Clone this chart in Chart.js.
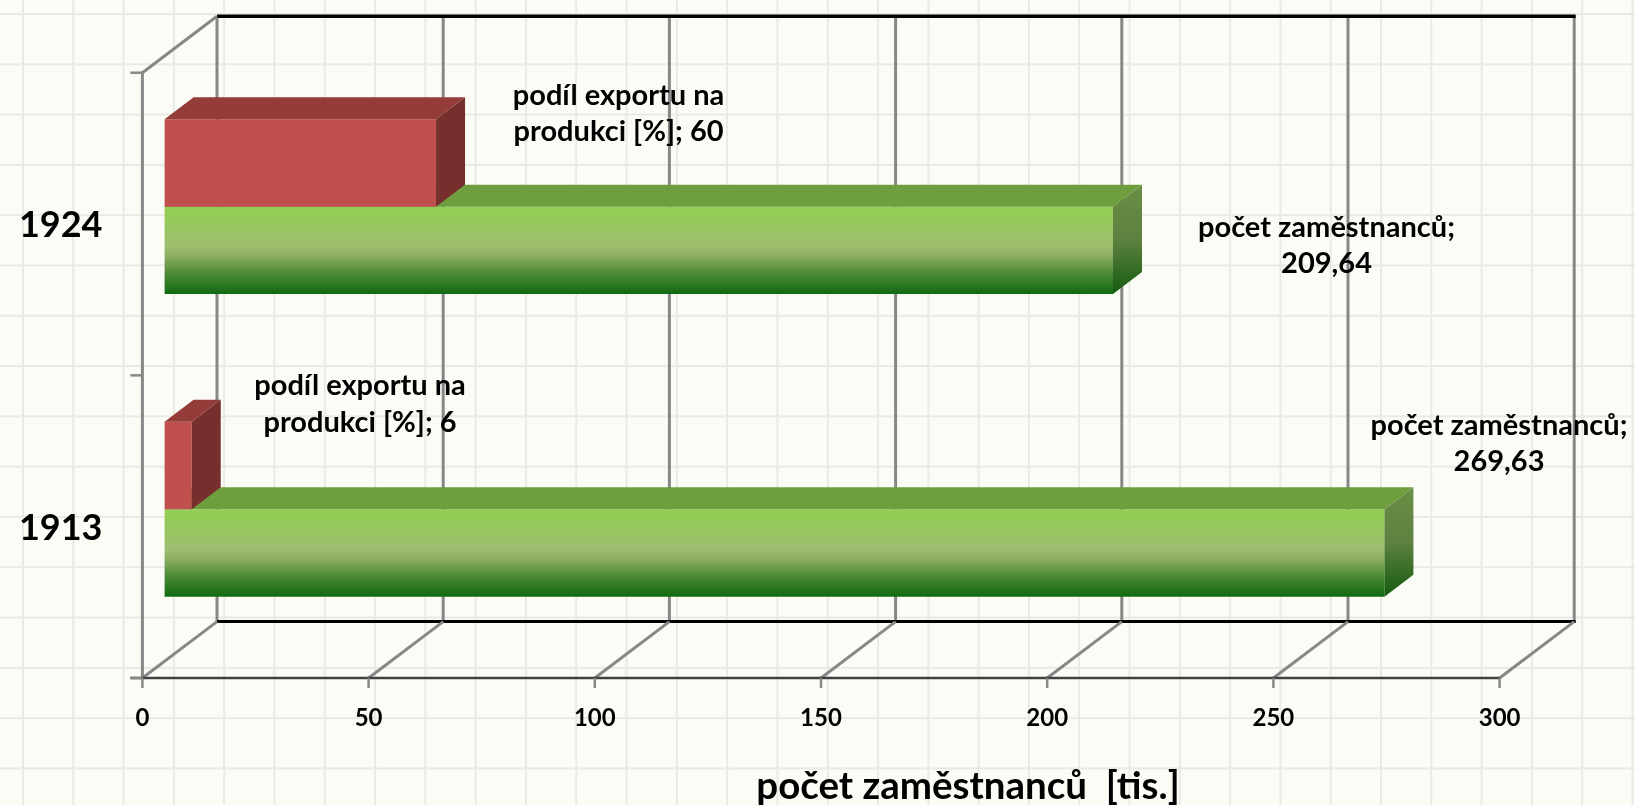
<!DOCTYPE html>
<html>
<head>
<meta charset="utf-8">
<script src="https://cdn.jsdelivr.net/npm/chart.js@4.4.1/dist/chart.umd.min.js"></script>
<style>
  html, body { margin: 0; padding: 0; }
  body {
    width: 1635px; height: 805px; overflow: hidden;
    background-color: #fcfcf7;
    background-image:
      linear-gradient(to right, #eaeae5 2px, transparent 2px),
      linear-gradient(to bottom, #eaeae5 2px, transparent 2px);
    background-size: 50.3px 50.3px;
    background-position: 22px 13px;
  }
  #wrap { position: absolute; left: 0; top: 0; width: 1635px; height: 805px; }
</style>
</head>
<body>
<div id="wrap"><canvas id="chart" width="1635" height="805"></canvas></div>
<script>
// ---- data ----
const categories = ['1924', '1913'];
const exportShare = [60, 6];            // podíl exportu na produkci [%]
const employees = [209.64, 269.63];     // počet zaměstnanců [tis.]
const xTickValues = [0, 50, 100, 150, 200, 250, 300];
const seriesNames = ['podíl exportu na produkci [%]', 'počet zaměstnanců'];
const seriesNameLines = [['podíl exportu na', 'produkci [%]'], ['počet zaměstnanců']];
const axisTitle = 'počet zaměstnanců  [tis.]';

// ---- layout / style constants ----
const PLOT = { left: 142.4, right: 1499.6, top: 55.3, bottom: 660.6 };
const BAR_SHIFT = { x: 22.2, y: 17.4 };   // bar plane vs. front plane
const WALL_DEPTH = { x: 74.6, y: -56.4 };  // back wall vs. front plane
const BAR_DEPTH = { x: 29, y: -22 };
const CAT_PCT = 0.578;
const LABEL_FONT = 'bold 29px Lato';
const LABEL_LINE = 36.5;
// label block centre relative to bar end / bar centre  [dataset][category]
const LABEL_POS = [
  [[182.5, -49.2], [168.3, -61.3]],
  [[213.5, -4.7], [114.6, -109.6]]
];
const TITLE_POS = { x: 968, y: 799 };

function fmt(v) { return String(v).replace('.', ','); }

function greenGradient(ctx) {
  const chart = ctx.chart;
  const area = chart.chartArea;
  if (!area) return '#92D050';
  const ys = chart.scales.y;
  const yc = ys.getPixelForValue(ctx.dataIndex);
  const band = (area.bottom - area.top) / categories.length;
  const th = band * CAT_PCT / 2;
  const top = yc - th + ctx.datasetIndex * th;
  const g = chart.ctx.createLinearGradient(0, top, 0, top + th);
  g.addColorStop(0, '#95CE56');
  g.addColorStop(0.12, '#93CB58');
  g.addColorStop(0.45, '#9FBD70');
  g.addColorStop(0.56, '#8DAF64');
  g.addColorStop(0.76, '#4E8A35');
  g.addColorStop(1, '#0F6A12');
  return g;
}

const faceStyles = [
  { top: '#943C39', side: '#772F2D' },
  { top: '#6E9E3E', side: null }
];

function poly(ctx, pts, fill) {
  ctx.beginPath();
  ctx.moveTo(pts[0][0], pts[0][1]);
  for (let i = 1; i < pts.length; i++) ctx.lineTo(pts[i][0], pts[i][1]);
  ctx.closePath();
  ctx.fillStyle = fill;
  ctx.fill();
}

function line(ctx, x1, y1, x2, y2, color, w) {
  ctx.beginPath();
  ctx.moveTo(x1, y1);
  ctx.lineTo(x2, y2);
  ctx.strokeStyle = color;
  ctx.lineWidth = w;
  ctx.stroke();
}

const plot3d = {
  id: 'plot3d',
  afterLayout(chart) {
    const xs = chart.scales.x, x2 = chart.scales.x2;
    const upp = (xs.max - xs.min) / (xs.right - xs.left);
    x2.min = xs.min - BAR_SHIFT.x * upp;
    x2.max = xs.max - BAR_SHIFT.x * upp;
    x2.configure();
  },
  beforeDatasetsDraw(chart) {
    const ctx = chart.ctx;
    const xs = chart.scales.x;
    const area = chart.chartArea;
    const fTop = area.top + BAR_SHIFT.y, fBot = area.bottom + BAR_SHIFT.y;
    const x0 = xs.getPixelForValue(xs.min), xN = xs.getPixelForValue(xs.max);
    const D = WALL_DEPTH;
    ctx.save();
    ctx.lineCap = 'butt';
    // back wall gridlines
    xTickValues.forEach(v => {
      const px = xs.getPixelForValue(v) + D.x;
      line(ctx, px, fTop + D.y, px, fBot + D.y, '#878787', 3);
    });
    // back wall top & bottom edge
    line(ctx, x0 + D.x, fTop + D.y, xN + D.x + 1.5, fTop + D.y, '#000000', 3.5);
    line(ctx, x0 + D.x, fBot + D.y, xN + D.x + 1.5, fBot + D.y, '#000000', 3);
    // floor diagonals
    xTickValues.forEach(v => {
      const px = xs.getPixelForValue(v);
      line(ctx, px, fBot, px + D.x, fBot + D.y, '#878787', 3);
    });
    // side wall
    line(ctx, x0, fTop, x0, fBot, '#878787', 3);
    line(ctx, x0, fTop, x0 + D.x, fTop + D.y, '#878787', 3);
    // front floor edge
    line(ctx, x0 - 12, fBot, xN, fBot, '#404040', 2.5);
    // x tick marks
    xTickValues.forEach(v => {
      const px = xs.getPixelForValue(v);
      line(ctx, px, fBot, px, fBot + 10, '#878787', 2.5);
    });
    // category separators on side wall
    const band = (area.bottom - area.top) / categories.length;
    for (let i = 0; i <= categories.length; i++) {
      const py = fTop + i * band;
      line(ctx, x0 - 12, py, x0, py, '#878787', 2.5);
    }
    ctx.restore();
  },
  afterDatasetDraw(chart, args) {
    const ctx = chart.ctx;
    const meta = args.meta;
    const st = faceStyles[args.index];
    const B = BAR_DEPTH;
    ctx.save();
    meta.data.forEach(bar => {
      const p = bar.getProps(['x', 'y', 'base', 'height'], true);
      const top = p.y - p.height / 2, bottom = p.y + p.height / 2;
      const l = p.base, r = p.x;
      poly(ctx, [[l, top], [l + B.x, top + B.y], [r + B.x, top + B.y], [r, top]], st.top);
      let side = st.side;
      if (!side) {
        side = ctx.createLinearGradient(0, top + B.y, 0, bottom);
        side.addColorStop(0, '#6A8F45');
        side.addColorStop(0.5, '#5E8140');
        side.addColorStop(1, '#155A10');
      }
      poly(ctx, [[r, top], [r + B.x, top + B.y], [r + B.x, bottom + B.y], [r, bottom]], side);
    });
    ctx.restore();
  },
  afterDatasetsDraw(chart) {
    const ctx = chart.ctx;
    ctx.save();
    ctx.font = LABEL_FONT;
    ctx.fillStyle = '#000000';
    ctx.textAlign = 'center';
    ctx.textBaseline = 'middle';
    chart.data.datasets.forEach((ds, d) => {
      const meta = chart.getDatasetMeta(d);
      meta.data.forEach((bar, i) => {
        const nameLines = seriesNameLines[d].slice();
        const val = fmt(ds.data[i]);
        let lines;
        if (nameLines.length > 1) {
          nameLines[nameLines.length - 1] += '; ' + val;
          lines = nameLines;
        } else {
          lines = [nameLines[0] + ';', val];
        }
        const cx = bar.x + LABEL_POS[d][i][0];
        const cy = bar.y + LABEL_POS[d][i][1];
        const y0 = cy - (lines.length - 1) * LABEL_LINE / 2;
        lines.forEach((t, k) => ctx.fillText(t, cx, y0 + k * LABEL_LINE));
      });
    });
    // axis title
    ctx.font = 'bold 38.5px Lato';
    ctx.textBaseline = 'alphabetic';
    ctx.fillText(axisTitle, TITLE_POS.x, TITLE_POS.y);
    ctx.restore();
  }
};

new Chart(document.getElementById('chart'), {
  type: 'bar',
  data: {
    labels: categories,
    datasets: [
      {
        label: seriesNames[0],
        data: exportShare,
        xAxisID: 'x2',
        backgroundColor: '#C0504D',
        borderWidth: 0,
        categoryPercentage: CAT_PCT,
        barPercentage: 1
      },
      {
        label: seriesNames[1],
        data: employees,
        xAxisID: 'x2',
        backgroundColor: greenGradient,
        borderWidth: 0,
        categoryPercentage: CAT_PCT,
        barPercentage: 1
      }
    ]
  },
  options: {
    indexAxis: 'y',
    responsive: false,
    animation: false,
    devicePixelRatio: 1,
    layout: { padding: { left: 0, top: PLOT.top, right: 1635 - PLOT.right, bottom: 0 } },
    plugins: { legend: { display: false }, tooltip: { enabled: false }, title: { display: false } },
    scales: {
      x: {
        type: 'linear',
        position: 'bottom',
        min: 0, max: 300,
        afterBuildTicks(scale) { scale.ticks = xTickValues.map(v => ({ value: v })); },
        grid: { display: false, drawTicks: false },
        border: { display: false },
        ticks: { color: '#000', font: { family: 'Lato', weight: 'bold', size: 24 }, padding: 43, maxRotation: 0 },
        afterFit(scale) { scale.height = 805 - PLOT.bottom; }
      },
      x2: {
        type: 'linear',
        position: 'bottom',
        display: false,
        min: 0, max: 300
      },
      y: {
        type: 'category',
        position: 'left',
        grid: { display: false, drawTicks: false },
        border: { display: false },
        ticks: { color: '#000', font: { family: 'Lato', weight: 'bold', size: 36, lineHeight: 0.8 }, padding: 40, labelOffset: 19 },
        afterFit(scale) { scale.width = PLOT.left; }
      }
    }
  },
  plugins: [plot3d]
});
</script>
</body>
</html>
